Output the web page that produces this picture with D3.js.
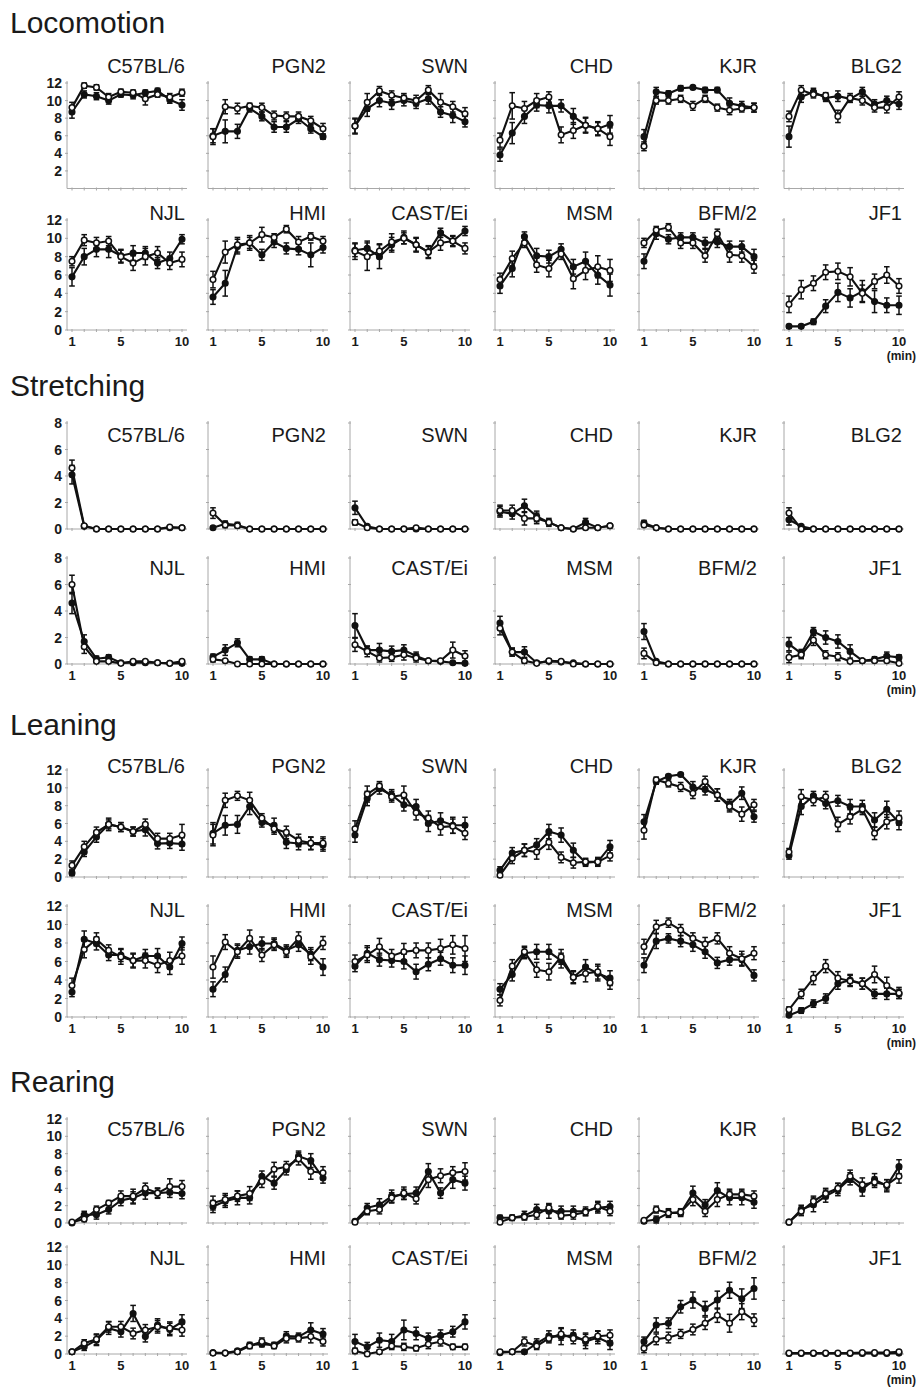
<!DOCTYPE html>
<html><head><meta charset="utf-8">
<script src="https://cdn.jsdelivr.net/npm/d3@7"></script>
<style>
body{margin:0;background:#fff}
svg{display:block}
text{font-family:"Liberation Sans",Arial,Helvetica,sans-serif;fill:#1a1a1a}
</style></head><body>
<svg id="chart" width="923" height="1391"></svg>
<script>
// ---------------- DATA ----------------
const minutes = [1,2,3,4,5,6,7,8,9,10];
const strains = ["C57BL/6","PGN2","SWN","CHD","KJR","BLG2","NJL","HMI","CAST/Ei","MSM","BFM/2","JF1"];
const behaviors = ["Locomotion","Stretching","Leaning","Rearing"];
const yMaxByBehavior = [12, 8, 12, 12];
const yTicks12 = [0,2,4,6,8,10,12];
const yTicks12NoZero = [2,4,6,8,10,12];
const yTicks8 = [0,2,4,6,8];
const xTickLabels = [1,5,10];
const xUnitLabel = "(min)";

// Locomotion
const locoOpen = [
 [9.2,11.7,11.5,10.4,11.0,10.9,10.2,10.7,10.4,10.9],
 [5.9,9.3,9.1,9.4,9.2,8.3,8.2,8.2,7.7,6.8],
 [7.1,9.8,11.1,10.6,10.3,10.0,11.2,9.8,9.3,8.5],
 [5.5,9.4,9.1,10.0,10.4,6.1,6.6,7.2,6.8,5.9],
 [4.8,10.0,10.0,10.2,9.4,10.2,9.2,8.9,9.1,9.2],
 [8.2,11.2,10.7,10.6,8.2,10.3,10.0,9.2,9.2,10.4],
 [7.5,9.8,9.5,9.7,8.0,7.3,8.0,8.4,7.3,7.7],
 [5.5,8.5,9.3,9.5,10.4,10.1,11.0,9.6,10.2,9.7],
 [8.6,8.0,8.6,9.6,10.0,9.3,8.5,9.5,9.7,8.9],
 [5.5,7.8,9.5,7.1,6.7,8.3,5.6,6.5,6.9,6.5],
 [9.5,10.9,11.2,9.5,9.5,8.1,10.5,8.2,8.1,6.9],
 [2.8,4.4,5.1,6.3,6.4,5.8,4.0,5.3,6.0,4.8]
];
const locoOpenErr = [
 [0.6,0.3,0.3,0.4,0.3,0.3,0.7,0.3,0.4,0.4],
 [0.9,0.8,0.6,0.3,0.5,0.5,0.5,0.5,0.5,0.6],
 [0.9,1.0,0.5,0.5,0.5,0.6,0.5,1.0,0.6,0.7],
 [0.8,1.5,0.8,0.8,0.6,0.9,0.9,0.8,0.7,1.0],
 [0.5,0.4,0.4,0.4,0.5,0.4,0.4,0.5,0.4,0.5],
 [0.6,0.5,0.4,0.3,0.7,0.5,0.5,0.5,0.6,0.6],
 [0.5,0.6,0.6,0.5,0.7,0.8,0.9,0.7,0.7,0.8],
 [0.9,1.2,0.8,0.6,0.8,0.4,0.4,0.6,0.4,0.5],
 [0.9,1.5,0.8,0.9,0.6,0.7,0.7,0.8,0.6,0.6],
 [0.7,0.8,0.5,0.8,0.9,0.6,1.1,1.0,1.2,1.2],
 [0.5,0.4,0.4,0.6,0.6,0.7,0.5,0.8,0.7,0.7],
 [0.9,1.0,0.8,0.8,0.9,1.0,0.9,0.8,0.9,0.8]
];
const locoFilled = [
 [8.7,10.7,10.5,10.0,10.7,10.6,10.9,11.1,10.1,9.5],
 [6.0,6.5,6.5,9.1,8.2,7.0,7.0,7.9,6.8,5.9],
 [7.1,9.1,10.0,9.7,10.0,9.7,10.2,8.7,8.3,7.6],
 [3.8,6.3,8.2,9.5,9.4,9.4,8.2,7.2,6.8,7.3],
 [5.9,11.0,10.8,11.4,11.5,11.2,11.2,9.7,9.4,9.2],
 [5.9,10.4,11.0,10.3,10.5,10.2,11.0,9.6,10.0,9.6],
 [5.8,8.0,8.8,8.8,8.1,8.4,8.4,7.3,7.8,9.9],
 [3.6,5.1,9.1,9.5,8.2,9.6,8.9,8.8,8.2,9.0],
 [8.7,8.9,8.0,9.3,10.1,9.3,8.5,10.6,9.7,10.8],
 [4.8,6.7,10.2,8.1,8.0,8.8,6.9,7.5,6.0,4.9],
 [7.5,10.5,9.9,10.1,10.1,9.5,9.6,9.1,9.1,8.0],
 [0.4,0.4,0.9,2.6,4.1,3.5,4.2,3.1,2.7,2.7]
];
const locoFilledErr = [
 [0.7,0.4,0.4,0.4,0.3,0.4,0.3,0.3,0.4,0.6],
 [0.8,1.3,0.8,0.4,0.5,0.6,0.6,0.5,0.5,0.3],
 [0.8,0.9,0.7,0.7,0.6,0.6,0.6,0.6,0.8,0.6],
 [0.7,1.2,0.8,0.7,0.8,0.7,0.9,0.9,0.8,1.0],
 [0.8,0.5,0.3,0.3,0.2,0.3,0.3,0.6,0.5,0.5],
 [1.2,0.6,0.4,0.4,0.6,0.4,0.5,0.5,0.5,0.6],
 [1.0,0.9,0.8,0.9,0.7,0.8,0.7,0.6,0.7,0.5],
 [0.8,1.4,0.8,0.8,0.6,0.6,0.6,0.6,1.3,0.6],
 [0.7,0.8,1.3,0.8,0.7,0.8,0.6,0.5,0.5,0.5],
 [0.8,0.9,0.5,0.8,0.7,0.6,0.8,1.0,1.0,1.2],
 [0.8,0.6,0.5,0.5,0.5,0.6,0.6,0.6,0.6,0.8],
 [0.2,0.2,0.3,0.7,1.0,1.0,1.2,1.2,0.8,1.0]
];

// Stretching
const stretchOpen = [
 [4.6,0.25,0,0,0,0,0,0,0.15,0.1],
 [1.2,0.3,0.25,0,0,0,0,0,0,0],
 [0.5,0.1,0,0,0,0.1,0,0,0,0],
 [1.4,1.4,0.8,0.8,0.5,0.1,0,0.1,0.1,0.25],
 [0.3,0.1,0,0,0,0,0,0,0,0],
 [1.2,0,0,0,0,0,0,0,0,0],
 [6.0,1.3,0.2,0.2,0.05,0.2,0.2,0.1,0.05,0.2],
 [0.35,0.25,0,0,0,0,0,0,0,0],
 [1.45,0.95,0.45,0.5,0.7,0.45,0.25,0.25,1.05,0.6],
 [2.7,0.9,0.25,0.05,0.25,0.2,0,0,0,0],
 [0.8,0.1,0,0,0,0,0,0,0,0],
 [0.5,0.7,1.8,0.7,0.55,0.2,0.25,0.25,0.25,0.05]
];
const stretchOpenErr = [
 [0.6,0.1,0,0,0,0,0,0,0.1,0.1],
 [0.4,0.2,0.1,0,0,0,0,0,0,0],
 [0.2,0.1,0,0,0,0,0,0,0,0],
 [0.4,0.4,0.5,0.4,0.3,0.1,0,0.1,0.1,0.1],
 [0.1,0,0,0,0,0,0,0,0,0],
 [0.4,0,0,0,0,0,0,0,0,0],
 [0.7,0.5,0.1,0.1,0,0.1,0.1,0.1,0,0.1],
 [0.2,0.1,0,0,0,0,0,0,0,0],
 [0.5,0.4,0.3,0.3,0.4,0.3,0.1,0.1,0.6,0.4],
 [0.5,0.3,0.2,0,0.1,0.1,0,0,0,0],
 [0.4,0.1,0,0,0,0,0,0,0,0],
 [0.4,0.3,0.4,0.3,0.3,0.1,0.1,0.1,0.1,0.1]
];
const stretchFilled = [
 [4.1,0.2,0,0,0,0,0,0,0.1,0.1],
 [0.1,0.4,0.3,0,0,0,0,0,0,0],
 [1.6,0.2,0,0,0,0,0,0,0,0],
 [1.3,1.15,1.75,0.95,0.5,0.1,0,0.5,0.1,0.25],
 [0.45,0.1,0,0,0,0,0,0,0,0],
 [0.7,0.2,0,0,0,0,0,0,0,0],
 [4.6,1.7,0.4,0.5,0.1,0.1,0.1,0.1,0.05,0.05],
 [0.55,1.05,1.6,0.35,0.35,0,0,0,0,0],
 [2.9,1.05,1.05,0.95,1.05,0.6,0.25,0.2,0.1,0.05],
 [3.1,0.9,0.9,0.1,0.2,0.15,0.1,0,0,0],
 [2.45,0.2,0,0,0,0,0,0,0,0],
 [1.5,0.8,2.45,2.0,1.7,0.95,0.25,0.35,0.6,0.5]
];
const stretchFilledErr = [
 [0.7,0.1,0,0,0,0,0,0,0.1,0.1],
 [0.1,0.2,0.2,0,0,0,0,0,0,0],
 [0.5,0.1,0,0,0,0,0,0,0,0],
 [0.4,0.4,0.5,0.4,0.2,0.1,0,0.3,0.1,0.1],
 [0.2,0,0,0,0,0,0,0,0,0],
 [0.4,0.1,0,0,0,0,0,0,0,0],
 [0.8,0.5,0.2,0.2,0,0,0,0,0,0],
 [0.2,0.4,0.3,0.2,0.2,0,0,0,0,0],
 [0.9,0.3,0.5,0.4,0.4,0.3,0.1,0.1,0.1,0.1],
 [0.5,0.3,0.4,0.1,0.1,0.1,0,0,0,0],
 [0.6,0.1,0,0,0,0,0,0,0,0],
 [0.5,0.3,0.3,0.5,0.5,0.5,0.1,0.2,0.3,0.2]
];

// Leaning
const leanOpen = [
 [1.3,3.4,5.0,5.9,5.6,5.1,5.9,4.3,4.3,4.7],
 [4.7,8.6,9.1,8.6,6.6,5.4,5.0,4.1,3.8,3.8],
 [5.4,9.3,10.2,9.0,9.2,7.2,6.6,5.6,5.7,4.9],
 [0.2,2.1,3.0,2.8,3.9,2.2,1.6,1.7,1.7,2.4],
 [5.25,10.9,10.5,10.1,9.4,10.7,9.2,7.9,7.05,8.1],
 [2.8,9.0,8.6,9.0,5.9,6.75,7.6,4.9,6.2,6.6],
 [3.4,7.3,8.4,7.2,6.5,6.1,6.1,5.6,6.1,6.6],
 [5.4,8.1,7.05,8.5,6.7,7.8,7.05,8.5,6.5,8.0],
 [6.0,6.7,7.6,6.6,7.05,7.2,7.2,7.4,7.8,7.4],
 [1.8,5.5,7.05,5.1,4.9,6.5,4.3,4.7,4.9,3.7],
 [7.6,9.75,10.2,9.4,8.5,7.9,8.5,6.9,6.3,6.9],
 [0.8,2.5,4.2,5.5,4.2,3.9,3.6,4.6,3.4,2.6]
];
const leanOpenErr = [
 [0.5,0.6,0.6,0.7,0.5,0.5,0.6,0.6,0.6,1.2],
 [1.2,0.8,0.5,0.9,0.5,0.6,0.7,0.7,0.7,0.7],
 [0.9,0.9,0.5,0.6,1.0,0.8,0.8,0.9,0.8,0.7],
 [0.3,0.6,0.7,0.8,0.8,0.6,0.6,0.4,0.5,0.6],
 [1.0,0.3,0.4,0.5,0.6,0.6,0.7,0.6,0.8,0.6],
 [0.4,0.8,0.6,0.6,0.8,0.8,0.6,0.7,0.8,0.8],
 [0.8,0.9,0.7,0.6,0.8,0.8,0.8,0.8,0.9,0.9],
 [1.2,0.8,0.7,0.9,0.7,0.6,0.6,0.7,0.8,0.7],
 [0.7,0.8,0.9,0.7,0.9,0.8,0.8,1.0,1.0,1.4],
 [0.6,0.7,0.6,0.8,0.9,0.8,0.6,0.9,0.8,0.7],
 [0.8,0.7,0.5,0.6,0.6,0.7,0.6,0.7,0.8,0.7],
 [0.3,0.5,0.7,0.7,0.7,0.6,0.6,0.9,0.9,0.6]
];
const leanFilled = [
 [0.45,2.8,4.5,5.9,5.6,5.1,5.3,3.75,3.8,3.7],
 [4.9,5.8,5.9,7.9,6.1,5.8,3.9,3.75,3.75,3.6],
 [4.7,8.8,9.9,9.2,8.1,7.9,6.0,6.3,5.8,5.8],
 [0.75,2.7,3.0,3.6,5.1,4.7,3.0,1.6,1.7,3.4],
 [6.2,10.7,11.3,11.5,10.1,9.8,9.2,8.1,9.4,6.75],
 [2.4,7.9,9.1,8.25,8.55,7.9,7.9,6.4,7.6,6.1],
 [2.7,8.4,7.95,6.7,6.7,6.1,6.6,6.6,5.4,7.95],
 [3.0,4.6,7.2,7.6,7.95,7.95,7.2,7.8,6.8,5.4],
 [5.5,6.9,6.2,6.1,6.0,4.9,5.7,6.3,5.6,5.6],
 [3.0,4.6,6.9,7.05,7.05,6.1,4.3,5.4,4.7,4.2],
 [5.6,8.2,8.5,8.2,7.8,7.05,5.85,6.2,6.2,4.5],
 [0.2,0.7,1.45,2.0,3.6,4.0,3.6,2.5,2.5,2.5]
];
const leanFilledErr = [
 [0.3,0.5,0.6,0.5,0.5,0.5,0.7,0.6,0.6,0.7],
 [1.2,1.1,1.0,0.9,0.5,0.8,0.7,0.7,0.7,0.7],
 [0.8,0.8,0.6,0.6,0.7,0.8,0.9,0.9,0.9,0.9],
 [0.4,0.6,0.7,0.7,0.8,0.8,0.8,0.4,0.4,0.7],
 [0.8,0.3,0.2,0.2,0.6,0.6,0.7,0.6,0.7,0.6],
 [0.4,0.9,0.5,0.6,0.6,0.8,0.7,0.8,0.9,0.8],
 [0.5,0.9,0.7,0.6,0.7,0.7,0.7,0.8,0.8,0.7],
 [0.8,0.8,0.7,0.8,0.7,0.6,0.6,0.7,0.7,0.9],
 [0.6,0.8,0.7,0.7,0.8,0.8,0.7,0.7,0.8,1.0],
 [0.6,0.7,0.6,0.8,0.8,0.8,0.7,0.8,0.8,0.8],
 [0.8,0.8,0.5,0.6,0.7,0.7,0.6,0.6,0.6,0.6],
 [0.1,0.3,0.4,0.5,0.6,0.6,0.6,0.5,0.6,0.5]
];

// Rearing
const rearOpen = [
 [0.1,0.45,1.55,2.3,3.1,3.1,4.0,3.45,4.2,4.2],
 [2.3,2.7,3.1,3.4,4.8,6.2,6.5,7.4,5.95,5.8],
 [0.1,1.35,1.55,2.9,3.45,2.8,5.0,5.45,5.8,5.95],
 [0.1,0.6,0.7,0.95,1.75,0.85,0.95,1.25,1.9,1.35],
 [0.3,1.55,1.15,1.25,2.7,1.35,2.7,3.3,3.3,3.1],
 [0.1,1.35,2.5,3.4,4.0,5.4,4.4,4.7,4.4,5.4],
 [0.25,1.2,1.65,3.05,3.05,2.3,2.7,3.05,2.9,2.7],
 [0.1,0.1,0.25,0.9,1.4,0.9,1.75,1.75,1.95,1.4],
 [0.35,0,0.25,0.9,0.8,0.65,1.1,1.4,0.8,0.8],
 [0.25,0.25,1.4,0.9,1.75,2.25,1.75,1.65,2.0,2.1],
 [0.65,1.65,1.85,2.25,2.75,3.45,4.35,3.45,4.75,3.8],
 [0.1,0.1,0.1,0.1,0.1,0.1,0.15,0.15,0.15,0.25]
];
const rearOpenErr = [
 [0.1,0.3,0.4,0.3,0.6,0.8,0.6,0.5,0.9,0.7],
 [0.8,0.7,0.6,0.8,0.7,0.8,0.6,0.7,0.9,0.7],
 [0.1,0.4,0.5,0.6,0.7,0.6,0.9,0.8,0.7,1.0],
 [0.1,0.3,0.3,0.5,0.5,0.4,0.5,0.4,0.6,0.5],
 [0.2,0.4,0.5,0.4,0.7,0.6,0.8,0.6,0.6,0.6],
 [0.1,0.5,0.6,0.6,0.6,0.7,0.8,0.6,0.6,0.8],
 [0.2,0.4,0.6,0.6,0.6,0.6,0.6,0.7,0.7,0.7],
 [0.1,0.1,0.2,0.3,0.4,0.3,0.5,0.4,0.7,0.5],
 [0.3,0.2,0.2,0.4,0.4,0.3,0.5,0.5,0.3,0.3],
 [0.2,0.2,0.5,0.4,0.5,0.7,0.6,0.7,0.6,0.6],
 [0.5,0.6,0.6,0.5,0.6,0.7,0.8,1.0,0.9,0.7],
 [0.05,0.05,0.05,0.05,0.05,0.05,0.1,0.1,0.1,0.15]
];
const rearFilled = [
 [0,0.95,0.95,1.55,2.6,2.9,3.45,3.45,3.55,3.4],
 [1.9,2.5,2.9,2.9,5.4,4.6,6.15,7.7,7.2,5.2],
 [0.2,1.75,2.1,3.1,3.3,3.45,5.95,3.45,5.0,4.6],
 [0.6,0.6,0.85,1.55,1.35,1.35,1.35,1.35,1.75,1.9],
 [0.2,0.4,1.15,1.15,3.45,2.1,3.75,2.9,2.9,2.4],
 [0.1,1.55,2.1,3.1,3.85,5.1,3.9,5.0,4.3,6.5],
 [0.25,0.8,1.55,2.9,2.5,4.55,1.95,3.25,2.75,3.6],
 [0.15,0.1,0.35,1.0,1.1,1.0,2.0,1.95,2.7,2.25],
 [1.4,0.8,1.55,1.4,2.7,2.3,1.75,2.1,2.5,3.6],
 [0.15,0.25,0.25,1.2,2.0,1.95,2.1,1.4,1.85,1.2],
 [1.4,3.25,3.45,5.3,6.05,5.1,6.05,7.15,6.2,7.35],
 [0.05,0.05,0.05,0.05,0.05,0.05,0.05,0.05,0.05,0.1]
];
const rearFilledErr = [
 [0.1,0.4,0.5,0.5,0.6,0.7,0.7,0.6,0.6,0.6],
 [0.7,0.7,0.8,0.7,0.6,0.7,0.6,0.6,0.8,0.6],
 [0.2,0.5,0.7,0.7,0.6,0.7,0.9,0.6,1.0,0.8],
 [0.3,0.3,0.5,0.6,0.8,0.6,0.6,0.5,0.6,0.6],
 [0.2,0.4,0.4,0.4,0.8,0.6,0.9,0.8,0.8,0.7],
 [0.1,0.5,0.8,0.7,0.7,0.7,0.8,0.7,0.7,0.8],
 [0.2,0.4,0.6,0.7,0.6,0.9,0.6,0.7,0.7,0.8],
 [0.1,0.1,0.2,0.3,0.3,0.3,0.5,0.4,0.8,0.6],
 [0.8,0.5,0.8,0.8,1.1,0.7,0.6,0.6,0.6,0.8],
 [0.1,0.2,0.2,0.5,0.6,0.9,0.6,0.8,0.7,0.7],
 [0.5,0.8,0.6,0.7,0.9,0.8,1.0,0.9,1.1,1.2],
 [0.05,0.05,0.05,0.05,0.05,0.05,0.05,0.05,0.05,0.05]
];

// ---------------- LAYOUT ----------------
const seriesByBehavior = [
  {open: locoOpen, openErr: locoOpenErr, filled: locoFilled, filledErr: locoFilledErr},
  {open: stretchOpen, openErr: stretchOpenErr, filled: stretchFilled, filledErr: stretchFilledErr},
  {open: leanOpen, openErr: leanOpenErr, filled: leanFilled, filledErr: leanFilledErr},
  {open: rearOpen, openErr: rearOpenErr, filled: rearFilled, filledErr: rearFilledErr}
];
const colX = [67, 208, 350, 495, 639, 784];
const sectionLayout = [
  {titleBase: 33,  rows: [{y0: 188.5, yTop: 83,  lab: 73,  ticks: yTicks12NoZero}, {y0: 330,  yTop: 220,  lab: 220,  ticks: yTicks12}]},
  {titleBase: 396, rows: [{y0: 529,   yTop: 423, lab: 442, ticks: yTicks8},        {y0: 664,  yTop: 558,  lab: 575,  ticks: yTicks8}]},
  {titleBase: 735, rows: [{y0: 877,   yTop: 770, lab: 773, ticks: yTicks12},       {y0: 1017, yTop: 906,  lab: 917,  ticks: yTicks12}]},
  {titleBase: 1092,rows: [{y0: 1223,  yTop: 1119,lab: 1136,ticks: yTicks12},       {y0: 1354, yTop: 1247, lab: 1265, ticks: yTicks12}]}
];

const svg = d3.select("#chart");
const AX = "#a8a8a8";
const INK = "#111";

behaviors.forEach((beh, bi) => {
  const L = sectionLayout[bi];
  const S = seriesByBehavior[bi];
  svg.append("text").attr("x", 10).attr("y", L.titleBase)
    .attr("font-size", 30).text(beh);

  L.rows.forEach((row, ri) => {
    const y = d3.scaleLinear().domain([0, yMaxByBehavior[bi]]).range([row.y0, row.yTop]);
    for (let c = 0; c < 6; c++) {
      const si = ri * 6 + c;
      const x0 = colX[c];
      const x = d3.scaleLinear().domain([1, 10]).range([x0 + 5, x0 + 115]);
      const g = svg.append("g");

      // axes lines
      g.append("line").attr("x1", x0).attr("x2", x0).attr("y1", row.y0).attr("y2", y(yMaxByBehavior[bi]) - 2)
        .attr("stroke", AX).attr("stroke-width", 1);
      g.append("line").attr("x1", x0).attr("x2", x0 + 120).attr("y1", row.y0).attr("y2", row.y0)
        .attr("stroke", AX).attr("stroke-width", 1);
      // y ticks
      g.selectAll(".yt").data(row.ticks).enter().append("line")
        .attr("x1", x0 - 2).attr("x2", x0 + 1).attr("y1", d => y(d)).attr("y2", d => y(d))
        .attr("stroke", AX).attr("stroke-width", 1);
      // x ticks
      g.selectAll(".xt").data(minutes).enter().append("line")
        .attr("x1", d => x(d)).attr("x2", d => x(d)).attr("y1", row.y0 - 1).attr("y2", row.y0 + 2)
        .attr("stroke", AX).attr("stroke-width", 1);

      if (c === 0) {
        g.selectAll(".yl").data(row.ticks).enter().append("text")
          .attr("x", x0 - 5).attr("y", d => y(d)).attr("dy", "0.36em")
          .attr("text-anchor", "end").attr("font-size", 14).attr("font-weight", "bold")
          .text(d => d);
      }
      if (ri === 1) {
        g.selectAll(".xl").data(xTickLabels).enter().append("text")
          .attr("x", d => x(d)).attr("y", row.y0 + 16)
          .attr("text-anchor", "middle").attr("font-size", 13).attr("font-weight", "bold")
          .text(d => d);
        if (c === 5) {
          g.append("text").attr("x", 916).attr("y", row.y0 + 30)
            .attr("text-anchor", "end").attr("font-size", 12).attr("font-weight", "bold")
            .text(xUnitLabel);
        }
      }
      // strain label
      g.append("text").attr("x", x0 + 118).attr("y", row.lab)
        .attr("text-anchor", "end").attr("font-size", 20).text(strains[si]);

      const line = d3.line().x((d, i) => x(minutes[i])).y(d => y(d));
      const series = [
        {vals: S.filled[si], errs: S.filledErr[si], open: false},
        {vals: S.open[si], errs: S.openErr[si], open: true}
      ];
      series.forEach(s => {
        const pts = s.vals.map((v, i) => ({m: minutes[i], v, e: s.errs[i]}));
        const eb = g.append("g").attr("stroke", INK).attr("stroke-width", 1.5);
        pts.filter(p => p.e > 0).forEach(p => {
          const xa = x(p.m), yl = y(Math.max(0, p.v - p.e)), yh = y(p.v + p.e);
          eb.append("line").attr("x1", xa).attr("x2", xa).attr("y1", yl).attr("y2", yh);
          eb.append("line").attr("x1", xa - 2.8).attr("x2", xa + 2.8).attr("y1", yh).attr("y2", yh);
          eb.append("line").attr("x1", xa - 2.8).attr("x2", xa + 2.8).attr("y1", yl).attr("y2", yl);
        });
        g.append("path").datum(s.vals).attr("d", line)
          .attr("fill", "none").attr("stroke", INK).attr("stroke-width", 2.1);
      });
      series.forEach(s => {
        g.selectAll(null).data(s.vals).enter().append("circle")
          .attr("cx", (d, i) => x(minutes[i])).attr("cy", d => y(d)).attr("r", 2.8)
          .attr("fill", s.open ? "#fff" : INK).attr("stroke", INK).attr("stroke-width", 1.5);
      });
    }
  });
});
</script>
</body></html>
